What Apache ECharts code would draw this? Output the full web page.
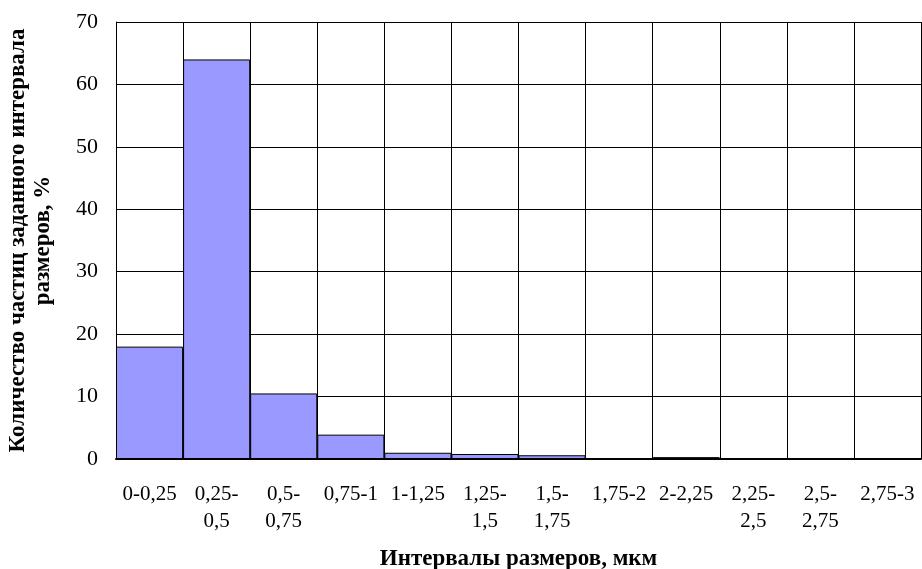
<!DOCTYPE html>
<html>
<head>
<meta charset="utf-8">
<script src="https://cdn.jsdelivr.net/npm/echarts@6/dist/echarts.min.js"></script>
<style>
  html, body { margin: 0; padding: 0; background: #fff; }
  #chart { width: 922px; height: 569px; }
</style>
</head>
<body>
<div id="chart"></div>
<script>
const categories = [
  "0-0,25", "0,25-\n0,5", "0,5-\n0,75", "0,75-1", "1-1,25", "1,25-\n1,5",
  "1,5-\n1,75", "1,75-2", "2-2,25", "2,25-\n2,5", "2,5-\n2,75", "2,75-3"
];
const percentValues = [18, 64, 10.5, 3.9, 1.0, 0.8, 0.6, 0.1, 0.3, 0.1, 0.05, 0.05];
const yTicks = { min: 0, max: 70, interval: 10 };

const font = "'Liberation Serif', 'Times New Roman', serif";
const chart = echarts.init(document.getElementById("chart"));

const option = {
  animation: false,
  grid: {
    left: 116, right: 1, top: 22, bottom: 110,
    containLabel: false,
    outerBoundsMode: "none",
  },
  xAxis: {
    type: "category",
    data: categories,
    name: "Интервалы размеров, мкм",
    nameLocation: "middle",
    nameGap: 89,
    nameTextStyle: { fontFamily: font, fontSize: 23, fontWeight: "bold", color: "#000" },
    axisLine: { lineStyle: { color: "#000", width: 2 } },
    axisTick: { show: false },
    axisLabel: {
      interval: 0,
      margin: 22,
      fontFamily: font,
      fontSize: 21,
      lineHeight: 27,
      color: "#000",
    },
    splitLine: { show: true, interval: 0, lineStyle: { color: "#000", width: 1 } },
  },
  yAxis: {
    type: "value",
    min: yTicks.min,
    max: yTicks.max,
    interval: yTicks.interval,
    name: "Количество частиц заданного интервала\nразмеров, %",
    nameLocation: "middle",
    nameGap: 60,
    nameTextStyle: {
      fontFamily: font,
      fontSize: 23,
      fontWeight: "bold",
      color: "#000",
      lineHeight: 25,
    },
    axisLine: { show: true, lineStyle: { color: "#000", width: 1 } },
    axisTick: { show: false },
    axisLabel: { margin: 18, fontFamily: font, fontSize: 22, color: "#000" },
    splitLine: { show: true, lineStyle: { color: "#000", width: 1 } },
  },
  series: [
    {
      type: "bar",
      data: percentValues,
      barCategoryGap: 0,
      itemStyle: { color: "#9999ff", borderColor: "#000", borderWidth: 1 },
    },
  ],
};

chart.setOption(option);
</script>
</body>
</html>
